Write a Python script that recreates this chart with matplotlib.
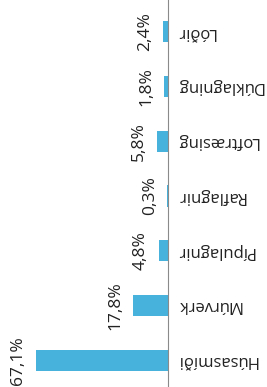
import matplotlib
matplotlib.use("Agg")
import matplotlib.pyplot as plt

categories = ["Húsasmíði", "Múrverk", "Pípulagnir", "Raflagnir", "Loftræsing", "Dúklagning", "Lóðir"]
values = [67.1, 17.8, 4.8, 0.3, 5.8, 1.8, 2.4]
value_labels = ["67,1%", "17,8%", "4,8%", "0,3%", "5,8%", "1,8%", "2,4%"]

W, H = 267, 387
fig = plt.figure(figsize=(W/100, H/100), dpi=100)
ax = fig.add_axes([0, 0, 168/W, 1])
plt.rcParams['font.family'] = ['Open Sans', 'DejaVu Sans']

ypos = list(range(len(categories)))
ax.barh(ypos, values, height=0.39, color='#47B2DC', edgecolor='none')
ax.set_xlim(85.4, 0)
ax.set_ylim(-0.49, 6.58)
for s in ['top', 'left', 'bottom']:
    ax.spines[s].set_visible(False)
ax.spines['right'].set_color('#8a8a8a')
ax.spines['right'].set_linewidth(0.8)
ax.set_xticks([])
ax.set_yticks([])
ax.patch.set_alpha(0)

for y, v, lab in zip(ypos, values, value_labels):
    ax.annotate(lab, (v, y), xytext=(-7, 0), textcoords='offset points',
                rotation=90, ha='right', va='center', fontsize=12.5, color='#222222',
                family=['Open Sans', 'DejaVu Sans'])
    ax.annotate(categories[y], (0, y), xytext=(6, 0), textcoords='offset points',
                rotation=180, ha='left', va='center', fontsize=12, color='#222222',
                family=['Open Sans', 'DejaVu Sans'], annotation_clip=False)

fig.savefig("out.png", dpi=100)
